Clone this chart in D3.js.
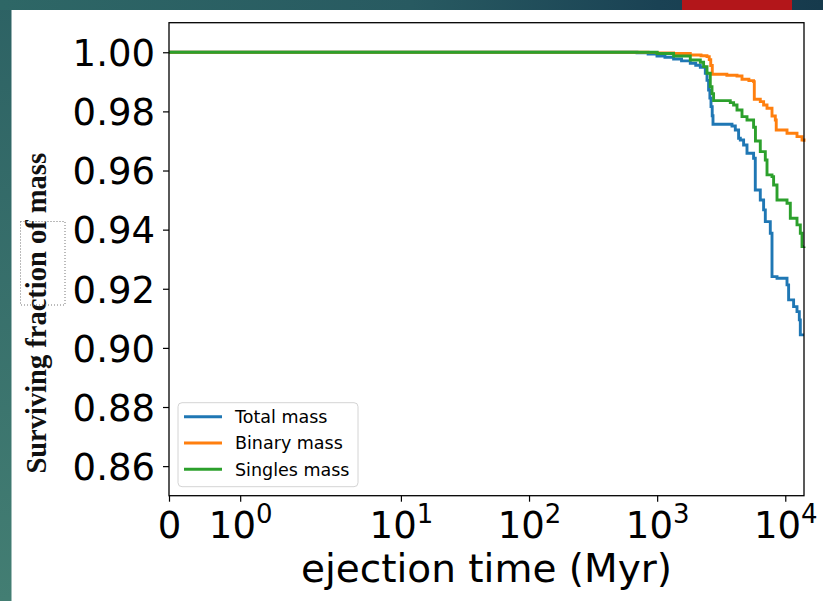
<!DOCTYPE html>
<html>
<head>
<meta charset="utf-8">
<script src="https://cdn.jsdelivr.net/npm/d3@7"></script>
<style>
  body { margin: 0; background: #fff; }
  svg { display: block; }
</style>
</head>
<body>
<svg id="chart" width="823" height="601"></svg>
<script>
let totalTime = [0, 600, 696, 850, 997, 1150, 1344, 1550, 1814, 2000, 2172, 2376, 2450, 2520, 2580, 2632, 2690, 2728, 3837, 4074, 4322, 4457, 4729, 5026, 5658, 5834, 6383, 6774, 6985, 7640, 7878, 8619, 10316, 10617, 11614, 12345, 12870, 13103, 14000];
let totalFrac = [1, 1, 0.9998, 0.9994, 0.99875, 0.9983, 0.99773, 0.9971, 0.99628, 0.9956, 0.99493, 0.9929, 0.9905, 0.98725, 0.9845, 0.9816, 0.9785, 0.97565, 0.97508, 0.97372, 0.97092, 0.97034, 0.96865, 0.96584, 0.96415, 0.95343, 0.95005, 0.94667, 0.94271, 0.93879, 0.92411, 0.92357, 0.9213, 0.91623, 0.91397, 0.91228, 0.90947, 0.9044, 0.9044];

let binaryTime = [0, 700, 850, 1000, 1344, 1814, 2200, 2449, 2550, 2620, 2693, 3500, 4200, 4594, 5200, 5658, 5731, 6383, 6774, 7202, 7878, 8359, 8500, 10316, 12345, 13512, 14000];
let binaryFrac = [1, 1, 0.99995, 0.9998, 0.9996, 0.99909, 0.9988, 0.99851, 0.9975, 0.9955, 0.99256, 0.9922, 0.99199, 0.99087, 0.9904, 0.99006, 0.98411, 0.98329, 0.98218, 0.98106, 0.97846, 0.97711, 0.97372, 0.97261, 0.97146, 0.97034, 0.9697];

let singlesTime = [0, 739, 1000, 1344, 1814, 2172, 2304, 2449, 2598, 2680, 2757, 3722, 3951, 4200, 4594, 5026, 5658, 5850, 6383, 6985, 7202, 7878, 8108, 8619, 10316, 10948, 12345, 13103, 13512, 14000];
let singlesFrac = [1, 1, 0.9996, 0.99875, 0.9974, 0.99662, 0.99513, 0.9929, 0.98837, 0.986, 0.98363, 0.98296, 0.98218, 0.98049, 0.97822, 0.97711, 0.97464, 0.97, 0.96639, 0.96358, 0.95851, 0.95793, 0.95512, 0.95005, 0.94893, 0.94386, 0.9416, 0.93879, 0.93426, 0.9343];

let seriesNames = ["Total mass", "Binary mass", "Singles mass"];
let seriesColors = ["#1f77b4", "#ff7f0e", "#2ca02c"];

let xTicks = [0, 1, 10, 100, 1000, 10000];
let xTickExp = ["", "0", "1", "2", "3", "4"];
let yTicks = [0.86, 0.88, 0.90, 0.92, 0.94, 0.96, 0.98, 1.00];

let svg = d3.select("#chart");

// slide background behind the figure
let defs = svg.append("defs");
let topGrad = defs.append("linearGradient").attr("id", "topGrad");
topGrad.append("stop").attr("offset", "0%").attr("stop-color", "#2e6766");
topGrad.append("stop").attr("offset", "50%").attr("stop-color", "#285a61");
topGrad.append("stop").attr("offset", "80%").attr("stop-color", "#1a4254");
topGrad.append("stop").attr("offset", "100%").attr("stop-color", "#163a4c");
let sideGrad = defs.append("linearGradient").attr("id", "sideGrad")
  .attr("x1", 0).attr("y1", 0).attr("x2", 0).attr("y2", 1);
sideGrad.append("stop").attr("offset", "0%").attr("stop-color", "#2d6264");
sideGrad.append("stop").attr("offset", "100%").attr("stop-color", "#437e73");

svg.append("rect").attr("width", 823).attr("height", 601).attr("fill", "url(#sideGrad)");
svg.append("rect").attr("width", 823).attr("height", 10).attr("fill", "url(#topGrad)");
svg.append("rect").attr("x", 682).attr("width", 110).attr("height", 10).attr("fill", "#b3161a");
svg.append("rect").attr("x", 11.5).attr("y", 10).attr("width", 812).attr("height", 591).attr("fill", "#fff");

let margin = { top: 22.7, left: 169 },
  width = 635,
  height = 473;

let chart = svg.append("g")
  .attr("transform", "translate(" + margin.left + "," + margin.top + ")");

// matplotlib style symlog, linthresh 2, linscale 1
let linthresh = 2, linscale = 1;
function symlog(v) {
  let L = linscale / (1 - 1 / 10);
  return v <= linthresh ? v / linthresh * L : L + Math.log10(v / linthresh);
}

let xScale = d3.scaleLinear()
  .domain([symlog(0), symlog(14000)])
  .range([0, width]);

let yScale = d3.scaleLinear()
  .domain([0.85, 1.01])
  .range([height, 0]);

// curves
let line = d3.line()
  .x(d => xScale(symlog(d[0])))
  .y(d => yScale(d[1]))
  .curve(d3.curveStepAfter);

let series = [
  d3.zip(totalTime, totalFrac),
  d3.zip(binaryTime, binaryFrac),
  d3.zip(singlesTime, singlesFrac)
];

chart.append("g")
  .selectAll("path")
  .data(series)
  .enter()
  .append("path")
  .attr("d", line)
  .attr("fill", "none")
  .attr("stroke", (d, i) => seriesColors[i])
  .attr("stroke-width", 2.9)
  .attr("stroke-linejoin", "miter");

// Y axis
let yAxis = chart.append("g")
  .call(d3.axisLeft(yScale).tickValues(yTicks).tickSize(6).tickPadding(8).tickFormat(d3.format(".2f")));

yAxis.selectAll("text")
  .attr("font-family", "DejaVu Sans")
  .attr("font-size", 37)
  .attr("fill", "#000")
  .attr("dy", "0.36em");

// X axis
let xAxis = chart.append("g")
  .attr("transform", "translate(0," + height + ")")
  .call(d3.axisBottom(xScale).tickValues(xTicks.map(symlog)).tickSize(6).tickFormat(""));

xAxis.selectAll(".tick")
  .append("text")
  .attr("y", 42.6)
  .attr("text-anchor", "middle")
  .attr("font-family", "DejaVu Sans")
  .attr("font-size", 37)
  .attr("fill", "#000")
  .each(function (d, i) {
    let t = d3.select(this);
    if (i == 0) {
      t.text("0");
      return;
    }
    t.append("tspan").text("10");
    t.append("tspan").attr("dy", -15).attr("font-size", 26).text(xTickExp[i]);
  });

[xAxis, yAxis].forEach(a => {
  a.select(".domain").remove();
  a.selectAll("line").attr("stroke", "#000").attr("stroke-width", 1.2);
});

// frame
chart.append("rect")
  .attr("width", width)
  .attr("height", height)
  .attr("fill", "none")
  .attr("stroke", "#000")
  .attr("stroke-width", 1.3);

// axis labels
svg.append("text")
  .attr("x", 486.5)
  .attr("y", 582)
  .attr("text-anchor", "middle")
  .attr("font-family", "DejaVu Sans")
  .attr("font-size", 39)
  .attr("fill", "#000")
  .text("ejection time (Myr)");

svg.append("text")
  .attr("transform", "translate(45.7,313.3) rotate(-90)")
  .attr("text-anchor", "middle")
  .attr("font-family", "Liberation Serif")
  .attr("font-weight", "bold")
  .attr("font-size", 28.5)
  .attr("fill", "#111")
  .text("Surviving fraction of mass");

svg.append("rect")
  .attr("x", 20.5).attr("y", 221.5)
  .attr("width", 44.5).attr("height", 83.5)
  .attr("fill", "none")
  .attr("stroke", "#777")
  .attr("stroke-width", 1)
  .attr("stroke-dasharray", "1,2");

// legend
let legend = chart.append("g").attr("transform", "translate(9,380)");
legend.append("rect")
  .attr("width", 180)
  .attr("height", 84)
  .attr("rx", 4)
  .attr("fill", "#fff")
  .attr("fill-opacity", 0.8)
  .attr("stroke", "#d4d4d4")
  .attr("stroke-width", 1);

let items = legend.selectAll(".item")
  .data(seriesNames)
  .enter()
  .append("g")
  .attr("transform", (d, i) => "translate(0," + (14 + i * 26.3) + ")");

items.append("line")
  .attr("x1", 6).attr("x2", 44)
  .attr("stroke", (d, i) => seriesColors[i])
  .attr("stroke-width", 2.9);

items.append("text")
  .attr("x", 57)
  .attr("dy", "0.36em")
  .attr("font-family", "DejaVu Sans")
  .attr("font-size", 17.5)
  .attr("fill", "#000")
  .text(d => d);
</script>
</body>
</html>
